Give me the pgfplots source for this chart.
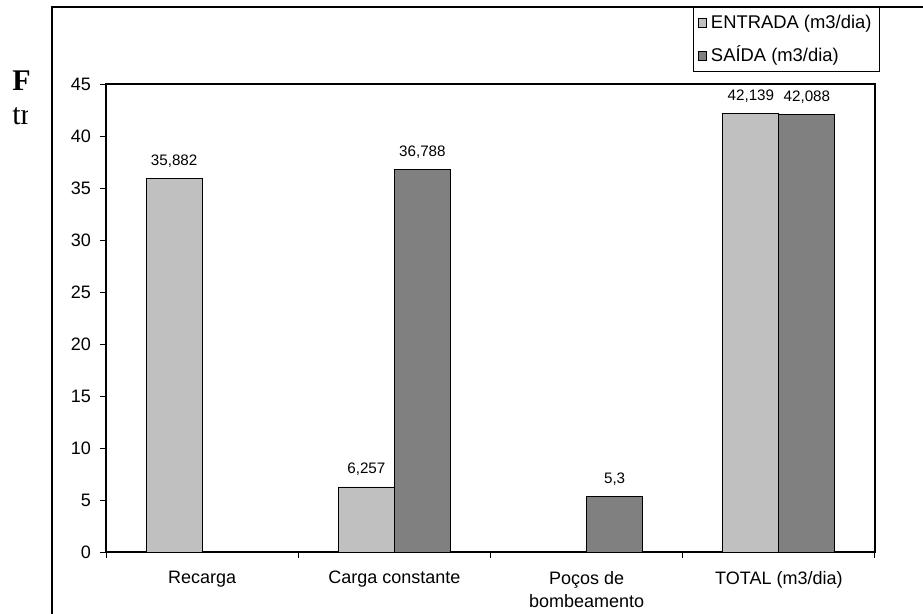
\documentclass[border=0pt]{standalone}
\usepackage{pgfplots}
\pgfplotsset{compat=1.18}
\usepackage{fontspec}
\setmainfont{Liberation Sans}
\newfontfamily\serifF{Liberation Serif}
\definecolor{entrada}{HTML}{C0C0C0}
\definecolor{saida}{HTML}{808080}
\begin{document}
\begin{tikzpicture}
\begin{scope}[x=0.5pt,y=-0.5pt]
\path[use as bounding box] (0,0) rectangle (923,611);
\draw[line width=0.6pt] (52,650) -- (52,7) -- (960,7);
\node[font=\serifF\bfseries\fontsize{15}{18}\selectfont, anchor=base west, inner sep=0] at (12,90) {F};
\begin{scope}
\clip (0,96) rectangle (27,135);
\node[font=\serifF\fontsize{15}{18}\selectfont, anchor=base west, inner sep=0] at (12,124) {tr};
\end{scope}
\end{scope}
\begin{axis}[
  at={(53pt,-276pt)}, anchor=south west,
  width=384.5pt, height=234pt, scale only axis,
  ybar, bar width=28pt,
  xmin=-0.5, xmax=3.5, ymin=0, ymax=45,
  ytick={0,5,...,45},
  xtick={-0.5,0.5,1.5,2.5,3.5},
  xticklabels={},
  extra x ticks={0,1,2,3},
  extra x tick labels={Recarga, Carga constante, {Poços de\\bombeamento}, TOTAL (m3/dia)},
  extra x tick style={major tick length=0pt, xticklabel style={align=center, yshift=-6pt, font=\fontsize{9}{11.5}\selectfont}},
  tick pos=left,
  tick align=outside,
  major tick length=3pt,
  tick style={black, line width=0.5pt},
  axis line style={black, line width=0.6pt},
  /pgf/number format/assume math mode=true,
  ticklabel style={font=\fontsize{9}{10}\selectfont},
  yticklabel style={xshift=-1pt},
  point meta=explicit symbolic,
  nodes near coords,
  every node near coord/.append style={font=\fontsize{7.6}{9}\selectfont, anchor=base, yshift=6.5pt, inner sep=0pt},
  legend style={at={(axis description cs:1.0065,1.1645)}, anchor=north east,
    draw=black, line width=0.5pt, fill=white,
    font=\fontsize{9.2}{10}\selectfont,
    inner xsep=2pt, inner ysep=1.25pt, row sep=3.5pt,
    nodes={inner sep=2pt, text height=7pt, text depth=2pt}},
  legend cell align=left,
  legend image code/.code={\draw[#1, draw=black, line width=0.4pt] (0pt,-2pt) rectangle (4.2pt,2.2pt);},
  clip=false,
]
\addplot[bar shift=-14pt, fill=entrada, draw=black, line width=0.4pt]
  table[meta=lab] {
x y lab
0 35.882 35,882
1 6.257 6,257
3 42.139 42,139
};
\addplot[bar shift=14pt, fill=saida, draw=black, line width=0.4pt]
  table[meta=lab] {
x y lab
1 36.788 36,788
2 5.3 5,3
3 42.088 42,088
};
\legend{ENTRADA (m3/dia), SAÍDA (m3/dia)}
\end{axis}
\end{tikzpicture}
\end{document}
